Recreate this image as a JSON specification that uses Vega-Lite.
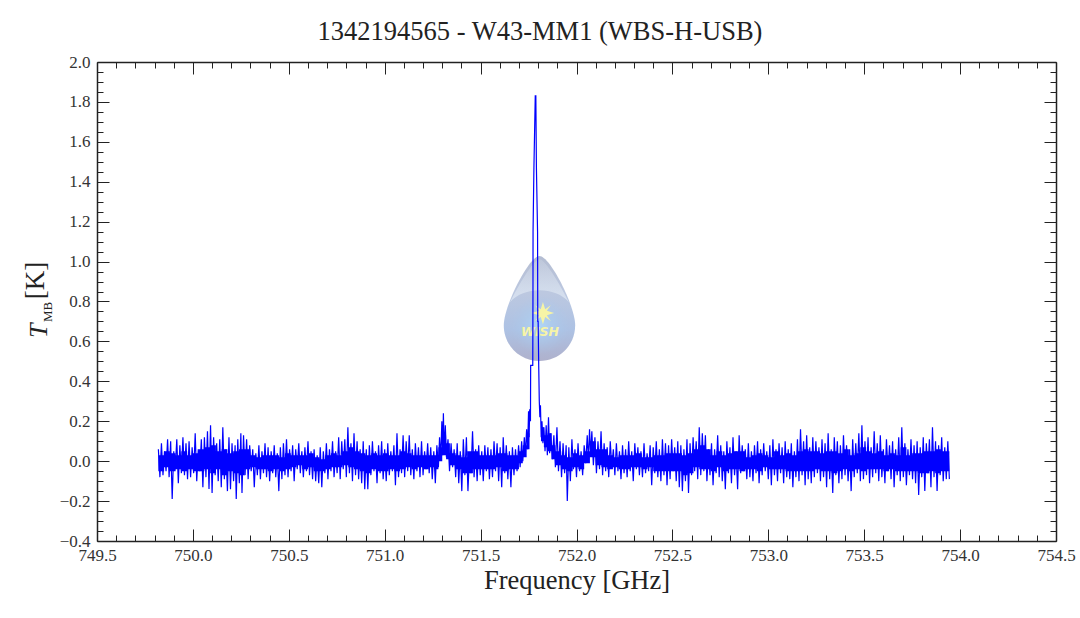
{"$schema":"https://vega.github.io/schema/vega-lite/v6.json","width":959,"height":479,"autosize":{"type":"none"},"padding":{"left":97,"top":62,"right":24,"bottom":77},"background":"white","config":{"view":{"stroke":null},"font":"Liberation Serif"},"title":{"text":"1342194565 - W43-MM1 (WBS-H-USB)","font":"Liberation Serif","fontSize":26.5,"fontWeight":"normal","color":"#222222","anchor":"middle","offset":8,"dx":-36.5},"datasets":{"spectrum":[
{"f":749.82,"t":0.06},{"f":749.828,"t":-0.08},{"f":749.836,"t":0.09},{"f":749.844,"t":-0.07},{"f":749.852,"t":0.05},{"f":749.86,"t":-0.05},{"f":749.868,"t":0.11},{"f":749.876,"t":-0.08},{"f":749.884,"t":0.1},{"f":749.892,"t":-0.19},{"f":749.9,"t":0.05},{"f":749.908,"t":-0.04},{"f":749.916,"t":0.11},{"f":749.924,"t":-0.11},{"f":749.932,"t":0.08},{"f":749.94,"t":-0.06},{"f":749.948,"t":0.12},{"f":749.956,"t":-0.07},{"f":749.964,"t":0.09},{"f":749.972,"t":-0.09},{"f":749.98,"t":0.1},{"f":749.988,"t":-0.08},{"f":749.996,"t":0.07},{"f":750.004,"t":-0.06},{"f":750.012,"t":0.14},{"f":750.02,"t":-0.1},{"f":750.028,"t":0.06},{"f":750.036,"t":-0.05},{"f":750.044,"t":0.11},{"f":750.052,"t":-0.13},{"f":750.06,"t":0.12},{"f":750.068,"t":-0.08},{"f":750.076,"t":0.15},{"f":750.084,"t":-0.14},{"f":750.092,"t":0.18},{"f":750.1,"t":-0.16},{"f":750.108,"t":0.12},{"f":750.116,"t":-0.07},{"f":750.124,"t":0.09},{"f":750.132,"t":-0.1},{"f":750.14,"t":0.11},{"f":750.148,"t":-0.13},{"f":750.156,"t":0.17},{"f":750.164,"t":-0.09},{"f":750.172,"t":0.06},{"f":750.18,"t":-0.15},{"f":750.188,"t":0.12},{"f":750.196,"t":-0.14},{"f":750.204,"t":0.09},{"f":750.212,"t":-0.1},{"f":750.22,"t":0.08},{"f":750.226,"t":-0.19},{"f":750.234,"t":0.11},{"f":750.242,"t":-0.11},{"f":750.25,"t":0.14},{"f":750.256,"t":-0.16},{"f":750.264,"t":0.13},{"f":750.272,"t":-0.07},{"f":750.28,"t":0.11},{"f":750.288,"t":-0.09},{"f":750.296,"t":0.08},{"f":750.304,"t":-0.05},{"f":750.312,"t":0.06},{"f":750.32,"t":-0.13},{"f":750.328,"t":0.04},{"f":750.336,"t":-0.07},{"f":750.344,"t":0.08},{"f":750.352,"t":-0.09},{"f":750.36,"t":0.05},{"f":750.368,"t":-0.06},{"f":750.376,"t":0.09},{"f":750.384,"t":-0.08},{"f":750.392,"t":0.07},{"f":750.4,"t":-0.1},{"f":750.408,"t":0.05},{"f":750.416,"t":-0.06},{"f":750.424,"t":0.08},{"f":750.432,"t":-0.08},{"f":750.44,"t":0.04},{"f":750.448,"t":-0.15},{"f":750.456,"t":0.07},{"f":750.464,"t":-0.09},{"f":750.472,"t":0.09},{"f":750.48,"t":-0.07},{"f":750.488,"t":0.11},{"f":750.496,"t":-0.08},{"f":750.504,"t":0.06},{"f":750.512,"t":-0.05},{"f":750.52,"t":0.08},{"f":750.528,"t":-0.1},{"f":750.536,"t":0.06},{"f":750.544,"t":-0.04},{"f":750.552,"t":0.09},{"f":750.56,"t":-0.06},{"f":750.568,"t":0.05},{"f":750.576,"t":-0.08},{"f":750.584,"t":0.07},{"f":750.592,"t":-0.05},{"f":750.6,"t":0.1},{"f":750.608,"t":-0.07},{"f":750.616,"t":0.05},{"f":750.624,"t":-0.09},{"f":750.632,"t":0.06},{"f":750.64,"t":-0.1},{"f":750.648,"t":0.03},{"f":750.656,"t":-0.11},{"f":750.664,"t":0.07},{"f":750.672,"t":-0.13},{"f":750.68,"t":0.05},{"f":750.688,"t":-0.06},{"f":750.696,"t":0.09},{"f":750.704,"t":-0.09},{"f":750.712,"t":0.06},{"f":750.72,"t":-0.05},{"f":750.728,"t":0.1},{"f":750.736,"t":-0.08},{"f":750.744,"t":0.05},{"f":750.752,"t":-0.06},{"f":750.76,"t":0.12},{"f":750.768,"t":-0.09},{"f":750.776,"t":0.1},{"f":750.784,"t":-0.04},{"f":750.792,"t":0.11},{"f":750.8,"t":-0.08},{"f":750.808,"t":0.17},{"f":750.816,"t":-0.06},{"f":750.824,"t":0.09},{"f":750.832,"t":-0.1},{"f":750.84,"t":0.14},{"f":750.848,"t":-0.07},{"f":750.856,"t":0.1},{"f":750.864,"t":-0.09},{"f":750.872,"t":0.06},{"f":750.88,"t":-0.11},{"f":750.888,"t":0.1},{"f":750.896,"t":-0.14},{"f":750.904,"t":0.06},{"f":750.912,"t":-0.14},{"f":750.92,"t":0.08},{"f":750.928,"t":-0.07},{"f":750.936,"t":0.1},{"f":750.944,"t":-0.05},{"f":750.952,"t":0.05},{"f":750.96,"t":-0.11},{"f":750.968,"t":0.08},{"f":750.976,"t":-0.06},{"f":750.984,"t":0.1},{"f":750.992,"t":-0.09},{"f":751.0,"t":0.06},{"f":751.008,"t":-0.1},{"f":751.016,"t":0.09},{"f":751.024,"t":-0.07},{"f":751.032,"t":0.05},{"f":751.04,"t":-0.05},{"f":751.048,"t":0.08},{"f":751.056,"t":-0.12},{"f":751.064,"t":0.14},{"f":751.072,"t":-0.08},{"f":751.08,"t":0.06},{"f":751.088,"t":-0.06},{"f":751.096,"t":0.13},{"f":751.104,"t":-0.08},{"f":751.112,"t":0.1},{"f":751.12,"t":-0.05},{"f":751.128,"t":0.13},{"f":751.136,"t":-0.07},{"f":751.144,"t":0.06},{"f":751.152,"t":-0.09},{"f":751.16,"t":0.09},{"f":751.168,"t":-0.05},{"f":751.176,"t":0.07},{"f":751.184,"t":-0.08},{"f":751.192,"t":0.1},{"f":751.2,"t":-0.07},{"f":751.208,"t":0.05},{"f":751.216,"t":-0.04},{"f":751.224,"t":0.09},{"f":751.232,"t":-0.06},{"f":751.24,"t":0.07},{"f":751.248,"t":-0.09},{"f":751.256,"t":0.05},{"f":751.264,"t":-0.11},{"f":751.272,"t":0.08},{"f":751.28,"t":-0.03},{"f":751.286,"t":0.12},{"f":751.292,"t":0.01},{"f":751.298,"t":0.2},{"f":751.302,"t":0.03},{"f":751.306,"t":0.24},{"f":751.31,"t":0.05},{"f":751.316,"t":0.18},{"f":751.322,"t":0.02},{"f":751.33,"t":0.11},{"f":751.338,"t":-0.05},{"f":751.346,"t":0.09},{"f":751.354,"t":-0.03},{"f":751.362,"t":0.06},{"f":751.37,"t":-0.08},{"f":751.378,"t":0.09},{"f":751.386,"t":-0.11},{"f":751.394,"t":0.05},{"f":751.402,"t":-0.15},{"f":751.41,"t":0.11},{"f":751.418,"t":-0.07},{"f":751.426,"t":0.12},{"f":751.434,"t":-0.15},{"f":751.442,"t":0.03},{"f":751.45,"t":-0.06},{"f":751.458,"t":0.15},{"f":751.466,"t":-0.08},{"f":751.474,"t":0.06},{"f":751.482,"t":-0.1},{"f":751.49,"t":0.08},{"f":751.498,"t":-0.07},{"f":751.506,"t":0.05},{"f":751.514,"t":-0.1},{"f":751.522,"t":0.08},{"f":751.53,"t":-0.05},{"f":751.538,"t":0.07},{"f":751.546,"t":-0.09},{"f":751.554,"t":0.06},{"f":751.562,"t":-0.08},{"f":751.57,"t":0.1},{"f":751.578,"t":-0.05},{"f":751.586,"t":0.09},{"f":751.594,"t":-0.1},{"f":751.602,"t":0.07},{"f":751.61,"t":-0.13},{"f":751.618,"t":0.12},{"f":751.626,"t":-0.06},{"f":751.634,"t":0.08},{"f":751.642,"t":-0.09},{"f":751.65,"t":0.05},{"f":751.658,"t":-0.13},{"f":751.666,"t":0.07},{"f":751.674,"t":-0.07},{"f":751.682,"t":0.06},{"f":751.69,"t":-0.05},{"f":751.698,"t":0.08},{"f":751.706,"t":-0.03},{"f":751.714,"t":0.1},{"f":751.72,"t":0.0},{"f":751.728,"t":0.12},{"f":751.733,"t":0.03},{"f":751.74,"t":0.16},{"f":751.745,"t":0.06},{"f":751.75,"t":0.25},{"f":751.753,"t":0.12},{"f":751.756,"t":0.26},{"f":751.76,"t":0.2},{"f":751.761,"t":0.48},{"f":751.772,"t":0.48},{"f":751.773,"t":0.82},{"f":751.7735,"t":1.15},{"f":751.778,"t":1.47},{"f":751.785,"t":1.83},{"f":751.788,"t":1.83},{"f":751.791,"t":1.47},{"f":751.797,"t":1.15},{"f":751.798,"t":0.7},{"f":751.8,"t":0.7},{"f":751.803,"t":0.48},{"f":751.806,"t":0.3},{"f":751.809,"t":0.22},{"f":751.812,"t":0.28},{"f":751.816,"t":0.12},{"f":751.82,"t":0.2},{"f":751.825,"t":0.09},{"f":751.83,"t":0.17},{"f":751.836,"t":0.05},{"f":751.842,"t":0.18},{"f":751.848,"t":0.03},{"f":751.854,"t":0.22},{"f":751.86,"t":0.04},{"f":751.866,"t":0.14},{"f":751.874,"t":0.01},{"f":751.882,"t":0.13},{"f":751.89,"t":-0.03},{"f":751.898,"t":0.17},{"f":751.906,"t":-0.05},{"f":751.914,"t":0.1},{"f":751.922,"t":-0.08},{"f":751.93,"t":0.09},{"f":751.938,"t":-0.06},{"f":751.946,"t":0.08},{"f":751.952,"t":-0.2},{"f":751.96,"t":0.07},{"f":751.968,"t":-0.1},{"f":751.976,"t":0.11},{"f":751.984,"t":-0.04},{"f":751.992,"t":0.06},{"f":752.0,"t":-0.08},{"f":752.008,"t":0.09},{"f":752.016,"t":-0.05},{"f":752.024,"t":0.05},{"f":752.032,"t":-0.07},{"f":752.04,"t":0.08},{"f":752.048,"t":-0.01},{"f":752.056,"t":0.13},{"f":752.062,"t":0.0},{"f":752.068,"t":0.16},{"f":752.074,"t":0.03},{"f":752.08,"t":0.15},{"f":752.088,"t":-0.02},{"f":752.096,"t":0.12},{"f":752.104,"t":-0.06},{"f":752.112,"t":0.1},{"f":752.12,"t":-0.04},{"f":752.128,"t":0.15},{"f":752.136,"t":-0.07},{"f":752.144,"t":0.09},{"f":752.152,"t":-0.05},{"f":752.16,"t":0.07},{"f":752.168,"t":-0.08},{"f":752.176,"t":0.1},{"f":752.184,"t":-0.03},{"f":752.192,"t":0.06},{"f":752.2,"t":-0.07},{"f":752.208,"t":0.09},{"f":752.216,"t":-0.05},{"f":752.224,"t":0.05},{"f":752.232,"t":-0.09},{"f":752.24,"t":0.08},{"f":752.248,"t":-0.06},{"f":752.256,"t":0.06},{"f":752.264,"t":-0.08},{"f":752.272,"t":0.1},{"f":752.28,"t":-0.05},{"f":752.288,"t":0.05},{"f":752.296,"t":-0.1},{"f":752.304,"t":0.09},{"f":752.312,"t":-0.04},{"f":752.32,"t":0.07},{"f":752.328,"t":-0.07},{"f":752.336,"t":0.05},{"f":752.344,"t":-0.08},{"f":752.352,"t":0.09},{"f":752.36,"t":-0.06},{"f":752.368,"t":0.04},{"f":752.376,"t":-0.05},{"f":752.384,"t":0.08},{"f":752.392,"t":-0.12},{"f":752.4,"t":0.07},{"f":752.408,"t":-0.06},{"f":752.416,"t":0.1},{"f":752.424,"t":-0.08},{"f":752.432,"t":0.06},{"f":752.44,"t":-0.1},{"f":752.448,"t":0.11},{"f":752.456,"t":-0.07},{"f":752.464,"t":0.09},{"f":752.472,"t":-0.12},{"f":752.48,"t":0.08},{"f":752.488,"t":-0.09},{"f":752.496,"t":0.11},{"f":752.504,"t":-0.05},{"f":752.512,"t":0.07},{"f":752.52,"t":-0.1},{"f":752.528,"t":0.1},{"f":752.536,"t":-0.13},{"f":752.544,"t":0.08},{"f":752.552,"t":-0.15},{"f":752.56,"t":0.06},{"f":752.568,"t":-0.1},{"f":752.576,"t":0.11},{"f":752.584,"t":-0.16},{"f":752.592,"t":0.09},{"f":752.6,"t":-0.07},{"f":752.608,"t":0.12},{"f":752.616,"t":-0.05},{"f":752.624,"t":0.1},{"f":752.632,"t":-0.09},{"f":752.64,"t":0.17},{"f":752.648,"t":-0.07},{"f":752.656,"t":0.14},{"f":752.664,"t":-0.05},{"f":752.672,"t":0.13},{"f":752.68,"t":-0.1},{"f":752.688,"t":0.06},{"f":752.696,"t":-0.07},{"f":752.704,"t":0.09},{"f":752.712,"t":-0.12},{"f":752.72,"t":0.06},{"f":752.728,"t":-0.06},{"f":752.736,"t":0.13},{"f":752.744,"t":-0.08},{"f":752.752,"t":0.08},{"f":752.76,"t":-0.1},{"f":752.768,"t":0.05},{"f":752.776,"t":-0.14},{"f":752.784,"t":0.1},{"f":752.792,"t":-0.06},{"f":752.8,"t":0.07},{"f":752.808,"t":-0.11},{"f":752.816,"t":0.12},{"f":752.824,"t":-0.07},{"f":752.832,"t":0.05},{"f":752.84,"t":-0.14},{"f":752.848,"t":0.13},{"f":752.856,"t":-0.06},{"f":752.864,"t":0.08},{"f":752.872,"t":-0.05},{"f":752.88,"t":0.06},{"f":752.888,"t":-0.09},{"f":752.896,"t":0.09},{"f":752.904,"t":-0.08},{"f":752.912,"t":0.05},{"f":752.92,"t":-0.1},{"f":752.928,"t":0.08},{"f":752.936,"t":-0.06},{"f":752.944,"t":0.1},{"f":752.952,"t":-0.11},{"f":752.96,"t":0.06},{"f":752.968,"t":-0.07},{"f":752.976,"t":0.09},{"f":752.984,"t":-0.05},{"f":752.992,"t":0.05},{"f":753.0,"t":-0.09},{"f":753.008,"t":0.08},{"f":753.016,"t":-0.12},{"f":753.024,"t":0.11},{"f":753.032,"t":-0.07},{"f":753.04,"t":0.06},{"f":753.048,"t":-0.1},{"f":753.056,"t":0.09},{"f":753.064,"t":-0.06},{"f":753.072,"t":0.07},{"f":753.08,"t":-0.11},{"f":753.088,"t":0.1},{"f":753.096,"t":-0.08},{"f":753.104,"t":0.06},{"f":753.112,"t":-0.09},{"f":753.12,"t":0.09},{"f":753.128,"t":-0.13},{"f":753.136,"t":0.05},{"f":753.144,"t":-0.08},{"f":753.152,"t":0.11},{"f":753.16,"t":-0.1},{"f":753.168,"t":0.16},{"f":753.176,"t":-0.07},{"f":753.184,"t":0.1},{"f":753.192,"t":-0.12},{"f":753.2,"t":0.13},{"f":753.208,"t":-0.09},{"f":753.216,"t":0.07},{"f":753.224,"t":-0.11},{"f":753.232,"t":0.12},{"f":753.24,"t":-0.08},{"f":753.248,"t":0.1},{"f":753.256,"t":-0.06},{"f":753.264,"t":0.07},{"f":753.272,"t":-0.1},{"f":753.28,"t":0.11},{"f":753.288,"t":-0.08},{"f":753.296,"t":0.09},{"f":753.304,"t":-0.13},{"f":753.312,"t":0.14},{"f":753.32,"t":-0.09},{"f":753.328,"t":0.06},{"f":753.336,"t":-0.16},{"f":753.344,"t":0.12},{"f":753.352,"t":-0.07},{"f":753.36,"t":0.1},{"f":753.368,"t":-0.11},{"f":753.376,"t":0.08},{"f":753.384,"t":-0.09},{"f":753.392,"t":0.13},{"f":753.4,"t":-0.07},{"f":753.408,"t":0.08},{"f":753.416,"t":-0.1},{"f":753.424,"t":0.06},{"f":753.432,"t":-0.15},{"f":753.44,"t":0.11},{"f":753.448,"t":-0.08},{"f":753.456,"t":0.09},{"f":753.464,"t":-0.06},{"f":753.472,"t":0.14},{"f":753.48,"t":-0.1},{"f":753.488,"t":0.18},{"f":753.496,"t":-0.09},{"f":753.504,"t":0.1},{"f":753.512,"t":-0.07},{"f":753.52,"t":0.12},{"f":753.528,"t":-0.11},{"f":753.536,"t":0.07},{"f":753.544,"t":-0.08},{"f":753.552,"t":0.15},{"f":753.56,"t":-0.06},{"f":753.568,"t":0.09},{"f":753.576,"t":-0.1},{"f":753.584,"t":0.13},{"f":753.592,"t":-0.08},{"f":753.6,"t":0.06},{"f":753.608,"t":-0.11},{"f":753.616,"t":0.11},{"f":753.624,"t":-0.05},{"f":753.632,"t":0.08},{"f":753.64,"t":-0.09},{"f":753.648,"t":0.1},{"f":753.656,"t":-0.13},{"f":753.664,"t":0.06},{"f":753.672,"t":-0.07},{"f":753.68,"t":0.12},{"f":753.688,"t":-0.1},{"f":753.696,"t":0.17},{"f":753.704,"t":-0.08},{"f":753.712,"t":0.09},{"f":753.72,"t":-0.12},{"f":753.728,"t":0.06},{"f":753.736,"t":-0.07},{"f":753.744,"t":0.11},{"f":753.752,"t":-0.09},{"f":753.76,"t":0.08},{"f":753.768,"t":-0.11},{"f":753.776,"t":0.1},{"f":753.784,"t":-0.17},{"f":753.792,"t":0.07},{"f":753.8,"t":-0.08},{"f":753.808,"t":0.12},{"f":753.816,"t":-0.15},{"f":753.824,"t":0.09},{"f":753.832,"t":-0.06},{"f":753.84,"t":0.11},{"f":753.848,"t":-0.13},{"f":753.856,"t":0.17},{"f":753.864,"t":-0.08},{"f":753.872,"t":0.1},{"f":753.88,"t":-0.15},{"f":753.888,"t":0.08},{"f":753.896,"t":-0.07},{"f":753.904,"t":0.12},{"f":753.912,"t":-0.1},{"f":753.92,"t":0.07},{"f":753.928,"t":-0.09},{"f":753.936,"t":0.1},{"f":753.944,"t":-0.09}
],"core":[
{"f":749.82,"lo":-0.05,"hi":0.03},{"f":749.85,"lo":-0.03,"hi":0.05},{"f":749.88,"lo":-0.05,"hi":0.04},{"f":749.91,"lo":-0.04,"hi":0.03},{"f":749.94,"lo":-0.05,"hi":0.05},{"f":749.97,"lo":-0.04,"hi":0.03},{"f":750.0,"lo":-0.05,"hi":0.04},{"f":750.03,"lo":-0.05,"hi":0.06},{"f":750.06,"lo":-0.04,"hi":0.07},{"f":750.09,"lo":-0.06,"hi":0.08},{"f":750.12,"lo":-0.04,"hi":0.05},{"f":750.15,"lo":-0.07,"hi":0.06},{"f":750.18,"lo":-0.05,"hi":0.04},{"f":750.21,"lo":-0.06,"hi":0.05},{"f":750.24,"lo":-0.07,"hi":0.06},{"f":750.27,"lo":-0.04,"hi":0.06},{"f":750.3,"lo":-0.03,"hi":0.03},{"f":750.33,"lo":-0.04,"hi":0.02},{"f":750.36,"lo":-0.04,"hi":0.03},{"f":750.39,"lo":-0.05,"hi":0.03},{"f":750.42,"lo":-0.04,"hi":0.03},{"f":750.45,"lo":-0.05,"hi":0.02},{"f":750.48,"lo":-0.04,"hi":0.04},{"f":750.51,"lo":-0.03,"hi":0.03},{"f":750.54,"lo":-0.02,"hi":0.03},{"f":750.57,"lo":-0.04,"hi":0.03},{"f":750.6,"lo":-0.03,"hi":0.04},{"f":750.63,"lo":-0.05,"hi":0.02},{"f":750.66,"lo":-0.05,"hi":0.01},{"f":750.69,"lo":-0.04,"hi":0.03},{"f":750.72,"lo":-0.03,"hi":0.04},{"f":750.75,"lo":-0.03,"hi":0.03},{"f":750.78,"lo":-0.02,"hi":0.05},{"f":750.81,"lo":-0.03,"hi":0.07},{"f":750.84,"lo":-0.04,"hi":0.05},{"f":750.87,"lo":-0.05,"hi":0.04},{"f":750.9,"lo":-0.06,"hi":0.03},{"f":750.93,"lo":-0.04,"hi":0.04},{"f":750.96,"lo":-0.05,"hi":0.03},{"f":750.99,"lo":-0.05,"hi":0.04},{"f":751.02,"lo":-0.04,"hi":0.03},{"f":751.05,"lo":-0.05,"hi":0.03},{"f":751.08,"lo":-0.04,"hi":0.05},{"f":751.11,"lo":-0.03,"hi":0.04},{"f":751.14,"lo":-0.04,"hi":0.03},{"f":751.17,"lo":-0.03,"hi":0.03},{"f":751.2,"lo":-0.04,"hi":0.03},{"f":751.23,"lo":-0.03,"hi":0.03},{"f":751.26,"lo":-0.04,"hi":0.03},{"f":751.28,"lo":0.0,"hi":0.07},{"f":751.3,"lo":0.03,"hi":0.13},{"f":751.32,"lo":0.01,"hi":0.09},{"f":751.34,"lo":-0.02,"hi":0.04},{"f":751.37,"lo":-0.04,"hi":0.03},{"f":751.4,"lo":-0.06,"hi":0.02},{"f":751.43,"lo":-0.06,"hi":0.05},{"f":751.46,"lo":-0.04,"hi":0.05},{"f":751.49,"lo":-0.04,"hi":0.03},{"f":751.52,"lo":-0.04,"hi":0.03},{"f":751.55,"lo":-0.04,"hi":0.03},{"f":751.58,"lo":-0.03,"hi":0.04},{"f":751.61,"lo":-0.05,"hi":0.04},{"f":751.64,"lo":-0.04,"hi":0.03},{"f":751.67,"lo":-0.04,"hi":0.03},{"f":751.7,"lo":-0.01,"hi":0.05},{"f":751.72,"lo":0.02,"hi":0.08},{"f":751.74,"lo":0.06,"hi":0.14},{"f":751.755,"lo":0.12,"hi":0.12},{"f":751.815,"lo":0.1,"hi":0.17},{"f":751.83,"lo":0.07,"hi":0.13},{"f":751.85,"lo":0.05,"hi":0.14},{"f":751.87,"lo":0.01,"hi":0.08},{"f":751.89,"lo":-0.02,"hi":0.05},{"f":751.92,"lo":-0.04,"hi":0.03},{"f":751.95,"lo":-0.05,"hi":0.02},{"f":751.98,"lo":-0.03,"hi":0.04},{"f":752.01,"lo":-0.04,"hi":0.03},{"f":752.04,"lo":-0.01,"hi":0.05},{"f":752.07,"lo":0.02,"hi":0.1},{"f":752.1,"lo":-0.02,"hi":0.06},{"f":752.13,"lo":-0.03,"hi":0.06},{"f":752.16,"lo":-0.04,"hi":0.03},{"f":752.19,"lo":-0.03,"hi":0.02},{"f":752.22,"lo":-0.04,"hi":0.03},{"f":752.25,"lo":-0.04,"hi":0.03},{"f":752.28,"lo":-0.03,"hi":0.03},{"f":752.31,"lo":-0.03,"hi":0.04},{"f":752.34,"lo":-0.04,"hi":0.02},{"f":752.37,"lo":-0.03,"hi":0.02},{"f":752.4,"lo":-0.05,"hi":0.03},{"f":752.43,"lo":-0.05,"hi":0.03},{"f":752.46,"lo":-0.05,"hi":0.04},{"f":752.49,"lo":-0.05,"hi":0.04},{"f":752.52,"lo":-0.05,"hi":0.04},{"f":752.55,"lo":-0.07,"hi":0.03},{"f":752.58,"lo":-0.06,"hi":0.04},{"f":752.61,"lo":-0.03,"hi":0.06},{"f":752.64,"lo":-0.04,"hi":0.08},{"f":752.67,"lo":-0.04,"hi":0.06},{"f":752.7,"lo":-0.05,"hi":0.03},{"f":752.73,"lo":-0.03,"hi":0.05},{"f":752.76,"lo":-0.05,"hi":0.03},{"f":752.79,"lo":-0.04,"hi":0.04},{"f":752.82,"lo":-0.04,"hi":0.05},{"f":752.85,"lo":-0.05,"hi":0.05},{"f":752.88,"lo":-0.04,"hi":0.02},{"f":752.91,"lo":-0.04,"hi":0.03},{"f":752.94,"lo":-0.05,"hi":0.04},{"f":752.97,"lo":-0.03,"hi":0.03},{"f":753.0,"lo":-0.04,"hi":0.02},{"f":753.03,"lo":-0.04,"hi":0.05},{"f":753.06,"lo":-0.04,"hi":0.03},{"f":753.09,"lo":-0.05,"hi":0.04},{"f":753.12,"lo":-0.05,"hi":0.03},{"f":753.15,"lo":-0.05,"hi":0.05},{"f":753.18,"lo":-0.05,"hi":0.06},{"f":753.21,"lo":-0.05,"hi":0.05},{"f":753.24,"lo":-0.04,"hi":0.05},{"f":753.27,"lo":-0.05,"hi":0.04},{"f":753.3,"lo":-0.05,"hi":0.05},{"f":753.33,"lo":-0.06,"hi":0.05},{"f":753.36,"lo":-0.05,"hi":0.04},{"f":753.39,"lo":-0.04,"hi":0.06},{"f":753.42,"lo":-0.05,"hi":0.03},{"f":753.45,"lo":-0.04,"hi":0.04},{"f":753.48,"lo":-0.05,"hi":0.07},{"f":753.51,"lo":-0.04,"hi":0.05},{"f":753.54,"lo":-0.04,"hi":0.04},{"f":753.57,"lo":-0.04,"hi":0.05},{"f":753.6,"lo":-0.05,"hi":0.03},{"f":753.63,"lo":-0.04,"hi":0.04},{"f":753.66,"lo":-0.05,"hi":0.03},{"f":753.69,"lo":-0.05,"hi":0.07},{"f":753.72,"lo":-0.05,"hi":0.03},{"f":753.75,"lo":-0.05,"hi":0.04},{"f":753.78,"lo":-0.06,"hi":0.04},{"f":753.81,"lo":-0.06,"hi":0.05},{"f":753.84,"lo":-0.05,"hi":0.05},{"f":753.87,"lo":-0.06,"hi":0.06},{"f":753.9,"lo":-0.05,"hi":0.05},{"f":753.944,"lo":-0.04,"hi":0.04}
],"logo":[{"f":751.807,"t":0.765}],"glow":[{"f":751.81,"t":0.682}],"star":[{"f":751.825,"t":0.742}],"wish":[{"f":751.81,"t":0.647,"label":"WISH"}],"symbolT":[{"f":749.239,"t":0.617,"label":"T"}],"symbolMB":[{"f":749.265,"t":0.697,"label":"MB"}]},
"layer":[
{"data":{"name":"logo"},"mark":{"type":"point","filled":true,"opacity":1,"size":11025,"shape":"M0,-1 C0.2,-1 0.68,-0.05 0.68,0.32 C0.68,0.72 0.36,1 0,1 C-0.36,1 -0.68,0.72 -0.68,0.32 C-0.68,-0.05 -0.2,-1 0,-1 Z","color":{"gradient":"linear","x1":0,"y1":0,"x2":0,"y2":1,"stops":[{"offset":0,"color":"#b4bdd2"},{"offset":0.35,"color":"#bcc8e0"},{"offset":0.7,"color":"#adc2e4"},{"offset":1,"color":"#afb1cc"}]}},"encoding":{"x":{"field":"f","type":"quantitative","scale":{"domain":[749.5,754.5],"nice":false,"zero":false},"axis":{"orient":"bottom","title":"Frequency [GHz]","titleFont":"Liberation Serif","titleFontSize":26.5,"titleFontWeight":"normal","titleColor":"#222222","titlePadding":4,"values":[749.5,750,750.5,751,751.5,752,752.5,753,753.5,754,754.5],"format":".1f","grid":false,"domainColor":"#222222","domainWidth":1.5,"tickColor":"#222222","tickSize":-12,"tickWidth":1,"labelFont":"Liberation Serif","labelFontSize":17,"labelColor":"#333333","labelPadding":18,"labelFlush":false,"labelOverlap":false}},"y":{"field":"t","type":"quantitative","scale":{"domain":[-0.4,2],"nice":false,"zero":false},"axis":{"orient":"left","title":"[K]","titleFont":"Liberation Serif","titleFontSize":27,"titleFontWeight":"normal","titleColor":"#222222","titleX":-48,"titleY":218,"titleAngle":270,"values":[-0.4,-0.2,0,0.2,0.4,0.6,0.8,1,1.2,1.4,1.6,1.8,2],"format":".1f","grid":false,"domainColor":"#222222","domainWidth":1.5,"tickColor":"#222222","tickSize":-12,"tickWidth":1,"labelFont":"Liberation Serif","labelFontSize":17,"labelColor":"#333333","labelPadding":19,"labelOverlap":false}}}},
{"data":{"name":"glow"},"mark":{"type":"point","filled":true,"opacity":1,"size":3400,"shape":"circle","color":{"gradient":"radial","x1":0.5,"y1":0.5,"r1":0,"x2":0.5,"y2":0.5,"r2":0.5,"stops":[{"offset":0,"color":"rgba(175,215,248,0.9)"},{"offset":0.6,"color":"rgba(170,205,240,0.4)"},{"offset":1,"color":"rgba(170,200,235,0)"}]}},"encoding":{"x":{"field":"f","type":"quantitative","scale":{"domain":[749.5,754.5],"nice":false,"zero":false},"axis":{"orient":"bottom","title":null,"labels":false,"domain":false,"grid":false,"tickColor":"#222222","tickSize":-6,"tickWidth":1,"values":[749.6,749.7,749.8,749.9,750.1,750.2,750.3,750.4,750.6,750.7,750.8,750.9,751.1,751.2,751.3,751.4,751.6,751.7,751.8,751.9,752.1,752.2,752.3,752.4,752.6,752.7,752.8,752.9,753.1,753.2,753.3,753.4,753.6,753.7,753.8,753.9,754.1,754.2,754.3,754.4]}},"y":{"field":"t","type":"quantitative","scale":{"domain":[-0.4,2],"nice":false,"zero":false},"axis":{"orient":"left","title":null,"labels":false,"domain":false,"grid":false,"tickColor":"#222222","tickSize":-6,"tickWidth":1,"values":[-0.35,-0.3,-0.25,-0.15,-0.1,-0.05,0.05,0.1,0.15,0.25,0.3,0.35,0.45,0.5,0.55,0.65,0.7,0.75,0.85,0.9,0.95,1.05,1.1,1.15,1.25,1.3,1.35,1.45,1.5,1.55,1.65,1.7,1.75,1.85,1.9,1.95]}}}},
{"data":{"name":"logo"},"mark":{"type":"point","filled":true,"opacity":1,"size":11025,"shape":"M0,-0.94 C0.12,-0.94 0.45,-0.35 0.56,-0.12 C0.3,-0.42 -0.3,-0.42 -0.56,-0.12 C-0.45,-0.35 -0.12,-0.94 0,-0.94 Z","color":{"gradient":"linear","x1":0,"y1":0,"x2":0,"y2":1,"stops":[{"offset":0,"color":"rgba(225,232,242,0.2)"},{"offset":1,"color":"rgba(225,234,245,0.75)"}]}},"encoding":{"x":{"field":"f","type":"quantitative","scale":{"domain":[749.5,754.5],"nice":false,"zero":false},"axis":{"orient":"top","title":null,"labels":false,"domain":true,"domainColor":"#222222","domainWidth":1.5,"grid":false,"tickColor":"#222222","tickSize":-12,"tickWidth":1,"values":[749.5,750,750.5,751,751.5,752,752.5,753,753.5,754,754.5]}},"y":{"field":"t","type":"quantitative","scale":{"domain":[-0.4,2],"nice":false,"zero":false},"axis":{"orient":"right","title":null,"labels":false,"domain":true,"domainColor":"#222222","domainWidth":1.5,"grid":false,"tickColor":"#222222","tickSize":-12,"tickWidth":1,"values":[-0.4,-0.2,0,0.2,0.4,0.6,0.8,1,1.2,1.4,1.6,1.8,2]}}}},
{"data":{"name":"star"},"mark":{"type":"point","filled":true,"opacity":1,"size":500,"color":"#f6f4a6","shape":"M0,-1 L0.2,-0.35 L0.7,-0.7 L0.35,-0.2 L1,0 L0.35,0.2 L0.7,0.7 L0.2,0.35 L0,1 L-0.2,0.35 L-0.7,0.7 L-0.35,0.2 L-1,0 L-0.35,-0.2 L-0.7,-0.7 L-0.2,-0.35 Z"},"encoding":{"x":{"field":"f","type":"quantitative","scale":{"domain":[749.5,754.5],"nice":false,"zero":false},"axis":{"orient":"top","title":null,"labels":false,"domain":false,"grid":false,"tickColor":"#222222","tickSize":-6,"tickWidth":1,"values":[749.6,749.7,749.8,749.9,750.1,750.2,750.3,750.4,750.6,750.7,750.8,750.9,751.1,751.2,751.3,751.4,751.6,751.7,751.8,751.9,752.1,752.2,752.3,752.4,752.6,752.7,752.8,752.9,753.1,753.2,753.3,753.4,753.6,753.7,753.8,753.9,754.1,754.2,754.3,754.4]}},"y":{"field":"t","type":"quantitative","scale":{"domain":[-0.4,2],"nice":false,"zero":false},"axis":{"orient":"right","title":null,"labels":false,"domain":false,"grid":false,"tickColor":"#222222","tickSize":-6,"tickWidth":1,"values":[-0.35,-0.3,-0.25,-0.15,-0.1,-0.05,0.05,0.1,0.15,0.25,0.3,0.35,0.45,0.5,0.55,0.65,0.7,0.75,0.85,0.9,0.95,1.05,1.1,1.15,1.25,1.3,1.35,1.45,1.5,1.55,1.65,1.7,1.75,1.85,1.9,1.95]}}}},
{"data":{"name":"wish"},"mark":{"type":"text","font":"DejaVu Sans","fontStyle":"italic","fontWeight":"bold","fontSize":12.5,"color":"#f6f4a6"},"encoding":{"text":{"field":"label"},"x":{"field":"f","type":"quantitative","scale":{"domain":[749.5,754.5],"nice":false,"zero":false},"axis":null},"y":{"field":"t","type":"quantitative","scale":{"domain":[-0.4,2],"nice":false,"zero":false},"axis":null}}},
{"data":{"name":"core"},"mark":{"type":"area","color":"#0000ff","interpolate":"step-after"},"encoding":{"x":{"field":"f","type":"quantitative","scale":{"domain":[749.5,754.5],"nice":false,"zero":false},"axis":null},"y":{"field":"lo","type":"quantitative","scale":{"domain":[-0.4,2],"nice":false,"zero":false},"axis":null},"y2":{"field":"hi"}}},
{"data":{"name":"spectrum"},"mark":{"type":"line","color":"#0000ff","strokeWidth":1.2,"clip":true},"encoding":{"x":{"field":"f","type":"quantitative","scale":{"domain":[749.5,754.5],"nice":false,"zero":false},"axis":null},"y":{"field":"t","type":"quantitative","scale":{"domain":[-0.4,2],"nice":false,"zero":false},"axis":null}}},
{"data":{"name":"symbolT"},"mark":{"type":"text","font":"Liberation Serif","fontStyle":"italic","fontSize":26,"color":"#222222","angle":270,"align":"left","baseline":"alphabetic"},"encoding":{"text":{"field":"label"},"x":{"field":"f","type":"quantitative","scale":{"domain":[749.5,754.5],"nice":false,"zero":false},"axis":null},"y":{"field":"t","type":"quantitative","scale":{"domain":[-0.4,2],"nice":false,"zero":false},"axis":null}}},
{"data":{"name":"symbolMB"},"mark":{"type":"text","font":"Liberation Serif","fontSize":13,"color":"#222222","angle":270,"align":"left","baseline":"alphabetic"},"encoding":{"text":{"field":"label"},"x":{"field":"f","type":"quantitative","scale":{"domain":[749.5,754.5],"nice":false,"zero":false},"axis":null},"y":{"field":"t","type":"quantitative","scale":{"domain":[-0.4,2],"nice":false,"zero":false},"axis":null}}}
],"resolve":{"axis":{"x":"independent","y":"independent"}}}
